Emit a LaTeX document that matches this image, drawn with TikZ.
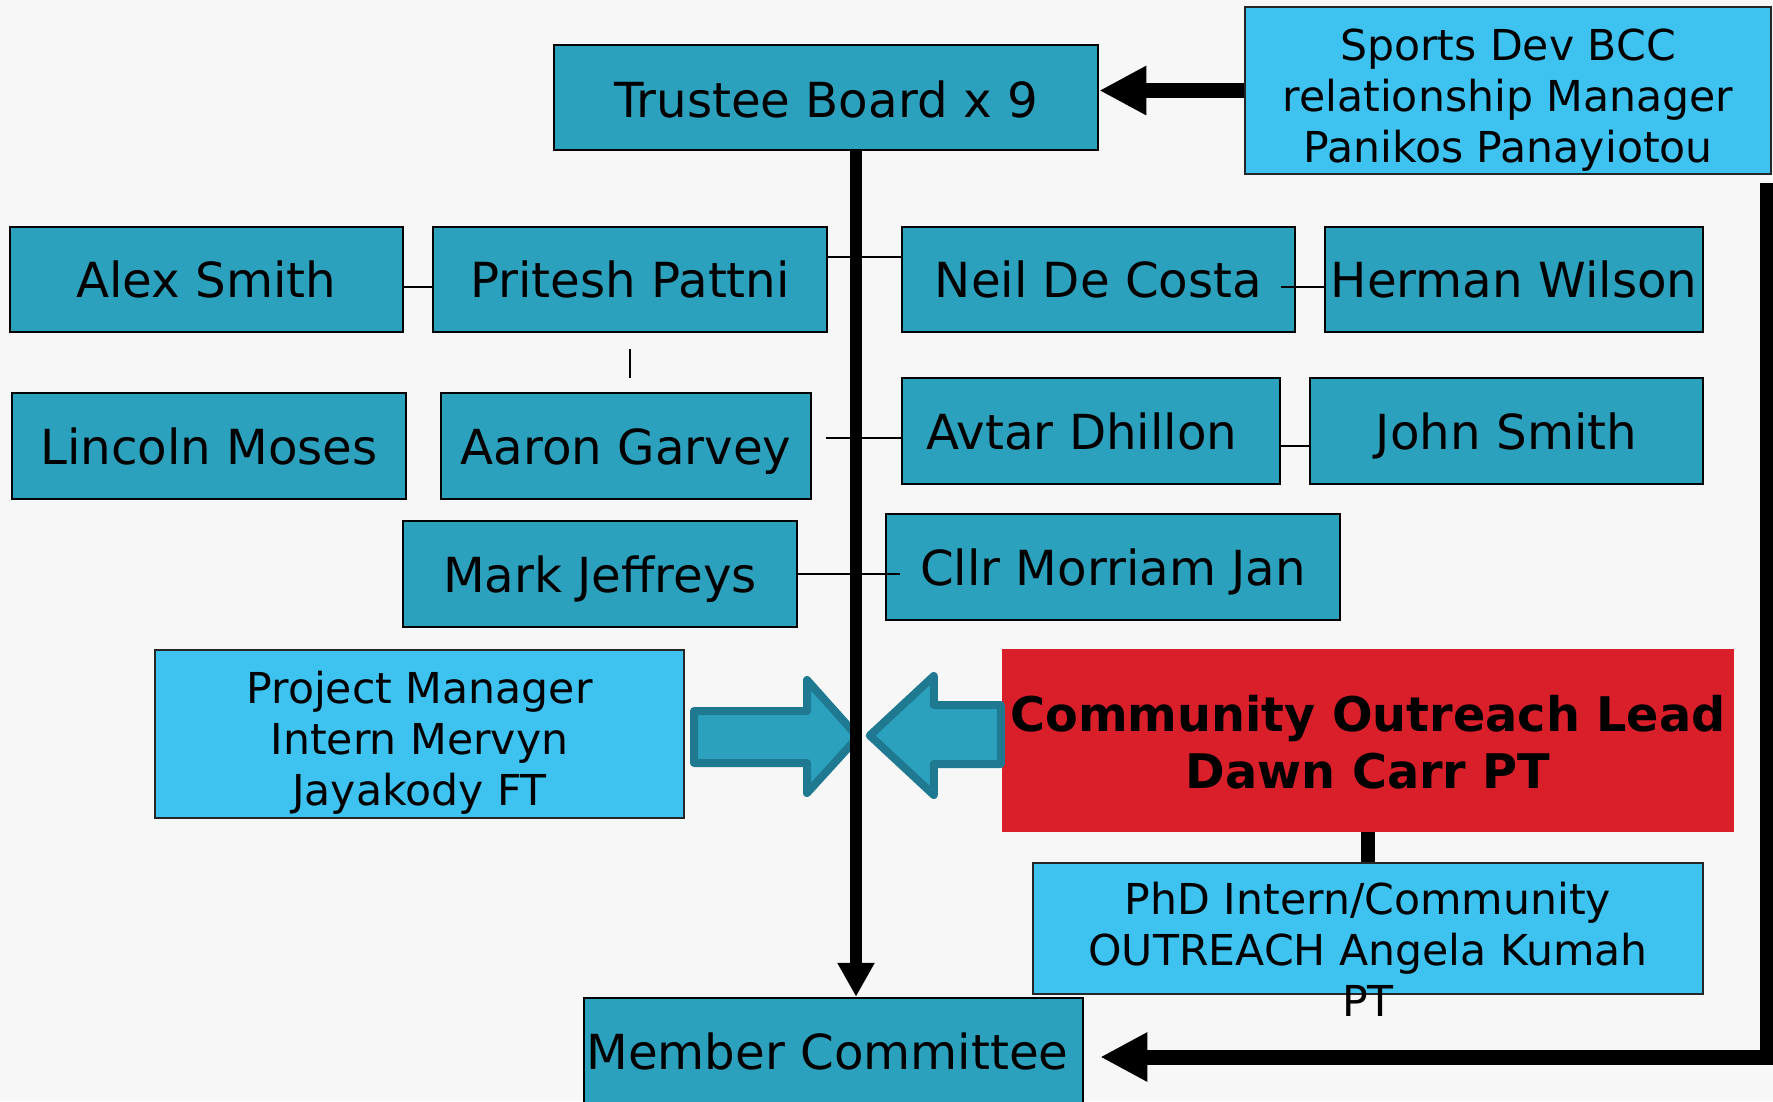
\documentclass[tikz,border=0pt]{standalone}
\usepackage{fontspec}
\setmainfont{DejaVu Sans}
\usetikzlibrary{arrows.meta}
\definecolor{bgcol}{HTML}{F7F7F7}
\definecolor{boxteal}{HTML}{2CA1BE}
\definecolor{skyfill}{HTML}{3EC2F0}
\definecolor{redfill}{HTML}{D81F2A}
\definecolor{arrowedge}{HTML}{1F7A91}
\newcommand\fbig{\fontsize{48.3pt}{57pt}\selectfont}
\newcommand\fmid{\fontsize{42.6pt}{51pt}\selectfont}
\newcommand\fbold{\fontsize{47.7pt}{57pt}\selectfont\bfseries}
\newcommand\mlines[2]{\vtop{\baselineskip=#1\lineskiplimit=-1000pt\lineskip=0pt\halign{\hfil##\hfil\cr#2\crcr}}}
\tikzset{
  tbox/.style={draw=black, line width=2.5pt, fill=boxteal, inner sep=0pt, font=\fbig, text height=36pt, text depth=0pt},
  lbox/.style={draw=black!85, line width=2pt, fill=skyfill, inner sep=0pt, font=\fmid, text height=0pt},
  rbox/.style={fill=redfill, inner sep=0pt, font=\fbold, text height=0pt},
  thinln/.style={line width=2pt, draw=black},
  bigarrow/.style={line width=15pt, line join=miter, -{Triangle[length=47pt,width=46pt]}},
  spineln/.style={line width=12pt, -{Triangle[length=34pt,width=35pt]}},
  blockarrow/.style={fill=boxteal, draw=arrowedge, line width=8pt, line join=round},
}
\begin{document}
\begin{tikzpicture}[x=1pt,y=-1pt]
\fill[bgcol] (0,0) rectangle (1773,1101);
\useasboundingbox (0,0) rectangle (1773,1101);

% boxes
\node[tbox, minimum width=544pt, minimum height=105pt, text height=39pt] (trustee) at (826,97.5) {Trustee Board x 9};
\node[lbox, minimum width=526pt, minimum height=167pt, text depth=61pt] (sports) at (1508,90.5)
  {\mlines{51pt}{Sports Dev BCC\cr relationship Manager\cr Panikos Panayiotou}};
\node[tbox, minimum width=393pt, minimum height=105pt] (alex) at (206.5,279.5) {Alex Smith};
\node[tbox, minimum width=394pt, minimum height=105pt] (pritesh) at (630,279.5) {Pritesh Pattni};
\node[tbox, minimum width=393pt, minimum height=105pt] (neil) at (1098.5,279.5) {Neil De Costa};
\node[tbox, minimum width=378pt, minimum height=105pt] (herman) at (1514,279.5) {Herman Wilson};
\node[tbox, minimum width=394pt, minimum height=106pt] (lincoln) at (209,446) {Lincoln Moses};
\node[tbox, minimum width=370pt, minimum height=106pt] (aaron) at (626,446) {Aaron Garvey};
\node[tbox, minimum width=378pt, minimum height=106pt] (avtar) at (1091,431) {\hspace*{-18pt}Avtar Dhillon};
\node[tbox, minimum width=393pt, minimum height=106pt] (john) at (1506.5,431) {John Smith};
\node[tbox, minimum width=394pt, minimum height=106pt] (mark) at (600,574) {Mark Jeffreys};
\node[tbox, minimum width=454pt, minimum height=106pt] (cllr) at (1113,567) {Cllr Morriam Jan};
\node[lbox, minimum width=529pt, minimum height=168pt, text depth=62pt] (pm) at (419.5,734)
  {\mlines{51pt}{Project Manager\cr Intern Mervyn\cr Jayakody FT}};
\node[rbox, minimum width=732pt, minimum height=183pt, text depth=19pt] (col) at (1368,740.5)
  {\mlines{57pt}{Community Outreach Lead\cr Dawn Carr PT}};
\node[lbox, minimum width=670pt, minimum height=131pt, text depth=29pt] (phd) at (1368,928.5)
  {\mlines{51pt}{PhD Intern/Community\cr OUTREACH Angela Kumah\cr PT}};
\node[tbox, minimum width=499pt, minimum height=107pt, text height=35pt] (member) at (833.5,1051.5) {Member Committee\hspace*{12pt}};

% thin connectors
\draw[thinln] ([yshift=-7.5pt]alex.east) -- ([yshift=-7.5pt]pritesh.west);
\draw[thinln] ([yshift=22.5pt]pritesh.east) -- ([yshift=22.5pt]neil.west);
\draw[thinln] ([xshift=-15pt,yshift=-7.5pt]neil.east) -- ([yshift=-7.5pt]herman.west);
\draw[thinln] ([yshift=-16pt]pritesh.south) -- ([yshift=14pt]aaron.north -| pritesh.south);
\draw[thinln] ([yshift=-7pt]avtar.west) -- ++(-75,0);
\draw[thinln] ([yshift=-15pt]avtar.east) -- ([yshift=-15pt]avtar.east -| john.west);
\draw[thinln] (mark.east) -- ([xshift=15pt]mark.east -| cllr.west);
\draw[line width=14pt] (col.south) -- (phd.north);

% block arrows
\begin{scope}[shift={(pm.east)}]
\draw[blockarrow] (9,-23) -- (122,-23) -- (122,-54) -- (173,3) -- (122,59) -- (122,29) -- (9,29) -- cycle;
\end{scope}
\begin{scope}[shift={(col.west)}]
\draw[blockarrow] (-1,-35.5) -- (-68,-35.5) -- (-68,-64.5) -- (-132,-5) -- (-68,54.5) -- (-68,23.5) -- (-1,23.5) -- cycle;
\end{scope}

% main spine and thick arrows
\coordinate (axis) at (856,0);
\draw[spineln] (trustee.south -| axis) -- (member.north -| axis);
\draw[bigarrow] (sports.west) -- (sports.west -| trustee.east);
\draw[bigarrow] ([xshift=-5pt,yshift=-8pt]sports.south east) |- ([xshift=16pt,yshift=-5.5pt]member.east);
\end{tikzpicture}
\end{document}
